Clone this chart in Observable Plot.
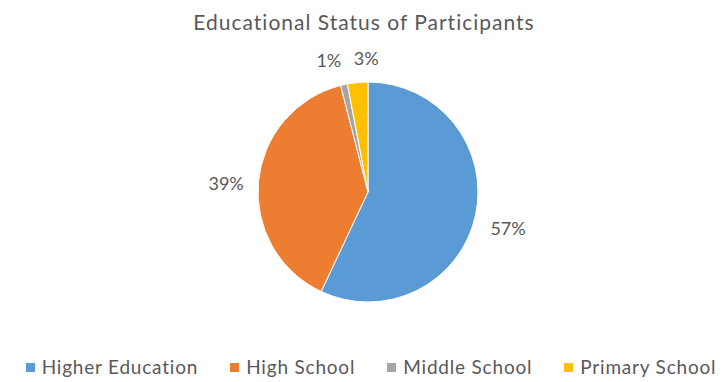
<!DOCTYPE html>
<html>
<head>
<meta charset="utf-8">
<script src="https://cdn.jsdelivr.net/npm/d3@7"></script>
<script src="https://cdn.jsdelivr.net/npm/@observablehq/plot@0.6"></script>
<style>
  body { margin: 0; background: #fff; font-family: Lato, "Open Sans", sans-serif; color: #595959; }
  #wrap { width: 728px; height: 382px; position: relative; overflow: hidden; }
  #title { position: absolute; top: 8px; left: 0; width: 728px; text-align: center; font-size: 21px; line-height: 28px; letter-spacing: 1px; }
  #chart { position: absolute; top: 42px; left: 0; }
  #legend { position: absolute; top: 355px; left: 7px; width: 728px; display: flex; justify-content: center; font-size: 19px; line-height: 24px; letter-spacing: 0.8px; }
  .item { display: flex; align-items: center; margin: 0 16px; }
  .sw { width: 9px; height: 9px; margin-right: 7px; }
</style>
</head>
<body>
<div id="wrap">
  <div id="title">Educational Status of Participants</div>
  <div id="chart"></div>
  <div id="legend"></div>
</div>
<script>
const categories = ["Higher Education", "High School", "Middle School", "Primary School"];
const values = [57, 39, 1, 3];
const colors = ["#5B9BD5", "#ED7D31", "#A5A5A5", "#FFC000"];

const W = 728, H = 270;
const cx = 368, cy = 150, R = 110;

const pie = d3.pie().sort(null).value(d => d.value);
const arcs = pie(categories.map((c, i) => ({category: c, value: values[i], color: colors[i]})));

// label positions in unit-radius space (outside end)
const labels = arcs.map(a => {
  const mid = (a.startAngle + a.endAngle) / 2;
  const r = a.data.value < 5 ? 1.22 : 1.3;
  const x = Math.sin(mid) * r;
  let y = Math.cos(mid) * r;
  if (Math.abs(x) > 1) y -= 0.05; // side labels sit a bit lower
  return {text: a.data.value + "%", x, y};
});
// simple symmetric collision avoidance between neighbouring labels
const minSep = 0.34;
for (let i = 1; i < labels.length; i++) {
  const p = labels[i - 1], q = labels[i];
  const d = q.x - p.x;
  if (Math.abs(p.y - q.y) < 0.12 && Math.abs(d) < minSep) {
    const push = (minSep - Math.abs(d)) / 2;
    p.x -= push; q.x += push;
  }
}

const pieMark = (index, scales) => {
  const g = d3.create("svg:g");
  const ox = scales.x(0), oy = scales.y(0);
  const rad = scales.x(1) - scales.x(0);
  const arcGen = d3.arc().innerRadius(0).outerRadius(rad);
  g.selectAll("path").data(arcs).join("path")
    .attr("transform", `translate(${ox},${oy})`)
    .attr("d", arcGen)
    .attr("fill", d => d.data.color)
    .attr("stroke", "#fff")
    .attr("stroke-width", 1);
  return g.node();
};

const chart = Plot.plot({
  width: W,
  height: H,
  margin: 0,
  x: {domain: [-cx / R, (W - cx) / R], range: [0, W], axis: null},
  y: {domain: [-(H - cy) / R, cy / R], range: [H, 0], axis: null},
  style: {fontFamily: "Lato, 'Open Sans', sans-serif", color: "#595959", background: "#fff"},
  marks: [
    pieMark,
    Plot.text(labels, {x: "x", y: "y", text: "text", fontSize: 18, fill: "#595959", style: "letter-spacing:0.5px"})
  ]
});
document.getElementById("chart").appendChild(chart);

const legend = document.getElementById("legend");
categories.forEach((c, i) => {
  const it = document.createElement("div");
  it.className = "item";
  const sw = document.createElement("div");
  sw.className = "sw";
  sw.style.background = colors[i];
  const t = document.createElement("span");
  t.textContent = c;
  it.appendChild(sw); it.appendChild(t);
  legend.appendChild(it);
});
</script>
</body>
</html>
